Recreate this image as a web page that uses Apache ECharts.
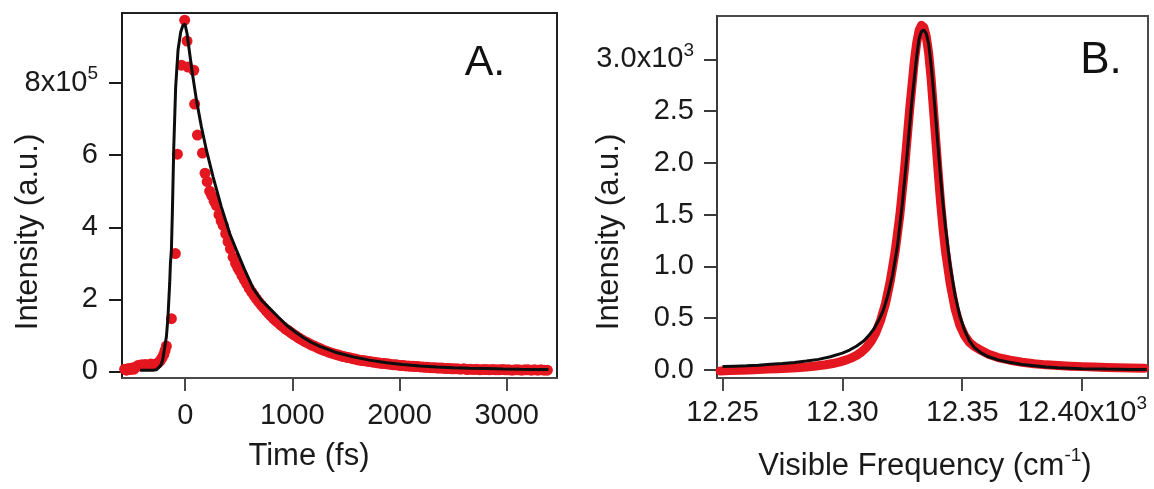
<!DOCTYPE html>
<html>
<head>
<meta charset="utf-8">
<script src="https://cdn.jsdelivr.net/npm/echarts@6/dist/echarts.min.js"></script>
<style>
  html, body { margin: 0; padding: 0; background: #ffffff; }
  #chart { width: 1154px; height: 489px; }
</style>
</head>
<body>
<div id="chart"></div>
<script>
// Panel A: time-resolved signal (measured points + fit), intensity in units of 1e5
const timeFs = [-565,-548,-530,-512,-495,-478,-460,-442,-425,-407,-390,-372,-355,-337,-320,-302,-285,-268,-250,-232,-215,-200,-188,-176,-129,-92,-73,-36,-5,17,26,80,88,114,161,185,205,228,248,270,292,315,335,355,378,400,422,447,470,490,509,530,552,575,598,620,642,665,688,710,733,756,778,800,822,845,868,890,912,935,958,980,1002,1025,1048,1070,1092,1115,1138,1160,1182,1205,1228,1250,1272,1295,1318,1340,1362,1385,1408,1430,1452,1475,1498,1520,1542,1565,1588,1610,1632,1655,1678,1700,1722,1745,1768,1790,1812,1835,1858,1880,1902,1925,1948,1970,1992,2015,2038,2060,2082,2105,2128,2150,2172,2195,2218,2240,2262,2285,2308,2330,2352,2375,2398,2420,2442,2465,2488,2510,2540,2570,2600,2630,2660,2690,2720,2750,2780,2810,2840,2870,2900,2930,2960,2990,3020,3050,3080,3110,3140,3170,3200,3230,3260,3290,3320,3350,3380,3410];
const intensityA = [0.06,0.03,0.08,0.05,0.09,0.06,0.12,0.16,0.15,0.18,0.17,0.19,0.16,0.18,0.2,0.17,0.19,0.21,0.24,0.3,0.38,0.47,0.58,0.7,1.46,3.27,6.03,8.5,9.75,9.17,8.45,8.36,7.42,6.56,6.06,5.5,5.27,5.0,4.88,4.72,4.6,4.35,4.18,4.05,3.82,3.6,3.4,3.17,3.0,2.88,2.78,2.66,2.54,2.42,2.3,2.2,2.11,2.01,1.92,1.84,1.76,1.68,1.61,1.54,1.47,1.41,1.35,1.29,1.24,1.18,1.14,1.09,1.04,1.0,0.95,0.91,0.87,0.83,0.8,0.76,0.73,0.7,0.67,0.64,0.61,0.58,0.56,0.53,0.51,0.49,0.47,0.45,0.43,0.41,0.4,0.38,0.37,0.35,0.34,0.32,0.31,0.3,0.29,0.28,0.27,0.26,0.25,0.24,0.23,0.22,0.22,0.21,0.2,0.19,0.18,0.18,0.17,0.16,0.16,0.15,0.15,0.14,0.14,0.13,0.13,0.12,0.12,0.11,0.11,0.1,0.1,0.1,0.09,0.09,0.09,0.08,0.08,0.08,0.07,0.07,0.07,0.06,0.07,0.05,0.06,0.05,0.06,0.04,0.05,0.05,0.04,0.05,0.04,0.04,0.05,0.04,0.04,0.03,0.04,0.04,0.03,0.04,0.04,0.03,0.04,0.03,0.04,0.03,0.03];
const fitTimeFs = [-420,-380,-340,-300,-270,-254,-238,-222,-210,-201,-190,-176,-161,-145,-138,-129,-120,-107,-89,-67,-42,-21,-2,17,42,67,105,151,198,260,338,416,479,550,634,710,790,870,946,1025,1101,1180,1257,1400,1568,1720,1880,2030,2192,2350,2503,2650,2815,2970,3126,3260,3390];
const fitIntensityA = [0.03,0.03,0.03,0.03,0.04,0.07,0.13,0.21,0.33,0.49,0.7,0.95,1.5,2.44,3.0,3.36,4.4,6.2,7.9,8.92,9.42,9.61,9.64,9.38,8.82,8.27,7.53,6.79,6.14,5.4,4.56,3.82,3.36,2.85,2.3,1.98,1.74,1.5,1.28,1.1,0.94,0.8,0.69,0.53,0.4,0.31,0.24,0.19,0.15,0.12,0.1,0.085,0.075,0.065,0.055,0.05,0.05];

// Panel B: emission spectrum (measured + fit), frequency in cm^-1
const freqB = [12249,12253,12257,12261,12265,12269,12273,12277,12281,12285,12289,12293,12296,12299,12302,12304,12306,12308,12310,12312,12314,12316,12318,12320,12322,12324,12326,12328,12330,12331,12332,12333,12334,12335,12336,12337,12338,12339,12340,12341,12342,12343,12345,12347,12349,12351,12353,12355,12358,12361,12365,12370,12375,12380,12385,12390,12395,12400,12405,12410,12415,12420,12426];
const intensityB = [-12,-8,-5,-2,2,6,10,14,20,26,36,48,60,76,98,116,140,172,215,275,360,480,640,860,1140,1500,1960,2500,2980,3160,3280,3330,3310,3220,3060,2820,2520,2210,1900,1610,1360,1150,830,590,430,330,265,225,185,150,118,92,72,57,47,40,34,30,26,22,19,17,15];
const fitFreqB = [12250,12255,12260,12265,12270,12275,12280,12285,12290,12295,12300,12303,12306,12309,12311,12313,12315,12317,12319,12321,12323,12325,12327,12329,12331,12332,12333,12334,12335,12336,12337,12338,12339,12340,12341,12342,12343,12345,12347,12349,12351,12353,12355,12358,12361,12365,12369,12375,12380,12385,12390,12395,12400,12410,12420,12427];
const fitIntensityB = [30,34,38,44,52,60,70,84,100,125,160,190,230,280,330,390,470,570,720,920,1200,1600,2080,2600,3030,3200,3270,3285,3250,3150,2950,2700,2420,2130,1850,1600,1380,1000,720,520,380,280,215,160,125,95,75,50,38,26,18,14,10,6,3,2];

// Tick values
const timeTicks = [0, 1000, 2000, 3000];
const intensityTicksA = [0, 2, 4, 6, 8];
const freqTicks = [12250, 12300, 12350, 12400];
const intensityTicksB = [0, 500, 1000, 1500, 2000, 2500, 3000];

const FONT = '"Liberation Sans", Arial, Helvetica, sans-serif';
const TEXT = '#1a1a1a';
const RED = '#e4161f';

const pairs = (xs, ys) => xs.map((x, i) => [x, ys[i]]);

// exponent style: bottom padding lifts the glyphs, fixed lineHeight keeps the row height
function supStyle(size, lift, rowHeight) {
  return { fontFamily: FONT, fontSize: size, color: TEXT, fill: TEXT, padding: [0, 0, lift * 2, 0], lineHeight: rowHeight };
}
const labelBase = { fontFamily: FONT, fontSize: 29, color: TEXT };
const supRich = { sup: supStyle(19, 9, 30) };

function axisCommon(color) {
  return {
    axisLine: { show: true, onZero: false, lineStyle: { color: color, width: 2 } },
    splitLine: { show: false }
  };
}

const chart = echarts.init(document.getElementById('chart'), null, { renderer: 'canvas' });

chart.setOption({
  animation: false,
  backgroundColor: '#ffffff',
  grid: [
    { left: 122, top: 13, width: 435, height: 365, show: true, borderColor: '#222222', borderWidth: 2, outerBoundsMode: 'none' },
    { left: 717, top: 16, width: 431, height: 362, show: true, borderColor: '#4a4a4a', borderWidth: 2, outerBoundsMode: 'none' }
  ],
  xAxis: [
    Object.assign(axisCommon('#4a4a4a'), {
      type: 'value', gridIndex: 0, min: -590, max: 3470,
      axisTick: { show: true, length: 13, customValues: timeTicks, lineStyle: { color: '#4a4a4a', width: 2 } },
      axisLabel: Object.assign({ customValues: timeTicks, margin: 23, formatter: function (v) { return String(v); } }, labelBase)
    }),
    Object.assign(axisCommon('#4a4a4a'), {
      type: 'value', gridIndex: 1, min: 12247.7, max: 12427.5,
      axisTick: { show: true, length: 13, customValues: freqTicks, lineStyle: { color: '#4a4a4a', width: 2 } },
      axisLabel: Object.assign({
        customValues: freqTicks, margin: 20, rich: supRich,
        formatter: function (v) {
          const s = (v / 1000).toFixed(2);
          return v === 12400 ? s + 'x10{sup|3}' : s;
        }
      }, labelBase)
    })
  ],
  yAxis: [
    Object.assign(axisCommon('#1a1a1a'), {
      type: 'value', gridIndex: 0, min: -0.186, max: 9.95,
      axisTick: { show: true, length: 13, customValues: intensityTicksA, lineStyle: { color: '#1a1a1a', width: 2 } },
      axisLabel: Object.assign({
        customValues: intensityTicksA, margin: 24, rich: supRich,
        formatter: function (v) { return v === 8 ? '8x10{sup|5}' : String(v); }
      }, labelBase)
    }),
    Object.assign(axisCommon('#3a3a3a'), {
      type: 'value', gridIndex: 1, min: -80, max: 3420,
      axisTick: { show: true, length: 13, customValues: intensityTicksB, lineStyle: { color: '#3a3a3a', width: 2 } },
      axisLabel: Object.assign({
        customValues: intensityTicksB, margin: 23, rich: supRich,
        formatter: function (v) {
          const s = (v / 1000).toFixed(1);
          return v === 3000 ? s + 'x10{sup|3}' : s;
        }
      }, labelBase)
    })
  ],
  series: [
    {
      name: 'data A', type: 'scatter', xAxisIndex: 0, yAxisIndex: 0,
      data: pairs(timeFs, intensityA), symbol: 'circle', symbolSize: 11,
      itemStyle: { color: RED, opacity: 1 }, z: 2
    },
    {
      name: 'fit A', type: 'line', xAxisIndex: 0, yAxisIndex: 0,
      data: pairs(fitTimeFs, fitIntensityA), showSymbol: false,
      lineStyle: { color: '#0d0d0d', width: 3 }, z: 3
    },
    {
      name: 'data B', type: 'line', xAxisIndex: 1, yAxisIndex: 1,
      data: pairs(freqB, intensityB), showSymbol: false,
      lineStyle: { color: RED, width: 9, cap: 'round', join: 'round' }, z: 2
    },
    {
      name: 'fit B', type: 'line', xAxisIndex: 1, yAxisIndex: 1,
      data: pairs(fitFreqB, fitIntensityB), showSymbol: false,
      lineStyle: { color: '#0d0d0d', width: 3 }, z: 3
    }
  ],
  graphic: [
    { type: 'text', x: 28, y: 232, rotation: Math.PI / 2,
      style: { text: 'Intensity (a.u.)', fontFamily: FONT, fontSize: 31, fill: TEXT, align: 'center', verticalAlign: 'middle' } },
    { type: 'text', x: 309, y: 456,
      style: { text: 'Time (fs)', fontFamily: FONT, fontSize: 31, fill: TEXT, align: 'center', verticalAlign: 'middle' } },
    { type: 'text', x: 485, y: 63,
      style: { text: 'A.', fontFamily: FONT, fontSize: 43, fill: '#111111', align: 'center', verticalAlign: 'middle' } },
    { type: 'text', x: 609, y: 232, rotation: Math.PI / 2,
      style: { text: 'Intensity (a.u.)', fontFamily: FONT, fontSize: 31, fill: TEXT, align: 'center', verticalAlign: 'middle' } },
    { type: 'text', x: 925, y: 466,
      style: {
        text: '{a|Visible Frequency (cm}{s|-1}{a|)}', align: 'center', verticalAlign: 'middle',
        rich: {
          a: { fontFamily: FONT, fontSize: 31, fill: TEXT, color: TEXT, lineHeight: 34 },
          s: supStyle(19, 10, 34)
        }
      } },
    { type: 'text', x: 1101, y: 61,
      style: { text: 'B.', fontFamily: FONT, fontSize: 44, fill: '#111111', align: 'center', verticalAlign: 'middle' } }
  ]
});
</script>
</body>
</html>
